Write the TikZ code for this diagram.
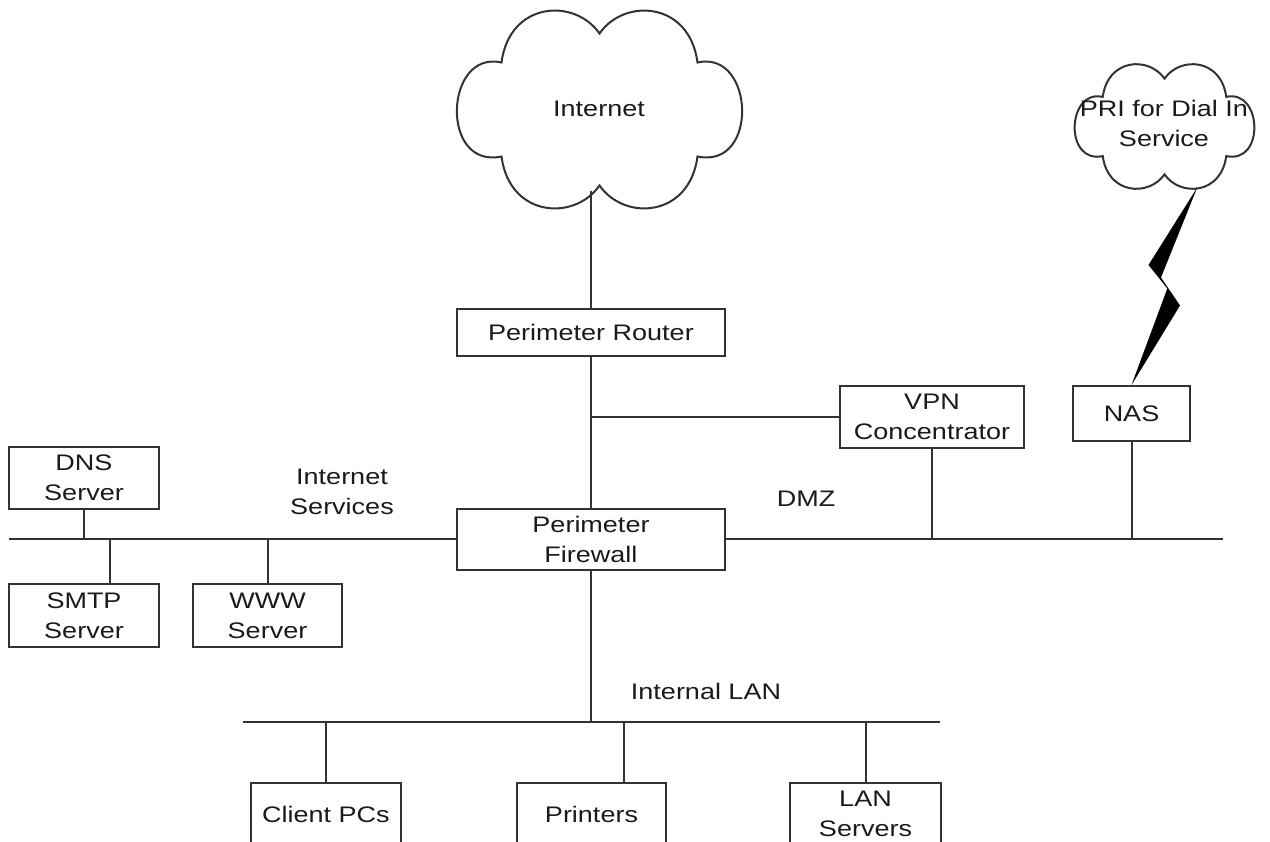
\documentclass[tikz,border=0pt]{standalone}
\usepackage{fontspec}
\setmainfont{Liberation Sans}[FakeStretch=1.2]
\definecolor{ink}{HTML}{333333}
\definecolor{txt}{HTML}{1A1A1A}
\newcommand\lblfont{\fontsize{22.5}{30}\selectfont}
\tikzset{
  box/.style={draw=ink, line width=2pt, inner sep=0pt, align=center,
    text=txt, font=\lblfont},
  lbl/.style={inner sep=0pt, align=center, text=txt, font=\lblfont},
  wire/.style={draw=ink, line width=2pt},
  cloud outline/.pic={
    \draw[ink, line width=2pt]
      (0,-76) .. controls (-25,-112) and (-90,-108) .. (-98,-47)
      .. controls (-155,-60) and (-160,60) .. (-98,47)
      .. controls (-90,108) and (-25,112) .. (0,76)
      .. controls (25,112) and (90,108) .. (98,47)
      .. controls (160,60) and (155,-60) .. (98,-47)
      .. controls (90,-108) and (25,-112) .. (0,-76) -- cycle;
  }
}
\begin{document}
\begin{tikzpicture}[x=1pt,y=-1pt]
\useasboundingbox (0,0) rectangle (1270,842);
\clip (0,0) rectangle (1270,842);

% clouds
\pic at (599.5,109.5) {cloud outline};
\pic[scale=0.63] at (1164.5,126.5) {cloud outline};
\node[lbl] (internet) at (599,109) {Internet};
\node[lbl] (pri) at (1164,123.5) {PRI for Dial In\\Service};

% devices
\node[box, minimum width=268pt, minimum height=47pt] (router) at (591,332.5) {Perimeter Router};
\node[box, minimum width=268pt, minimum height=61pt] (firewall) at (591,539) {Perimeter\\Firewall};
\node[box, minimum width=184pt, minimum height=62pt] (vpn) at (932,417) {VPN\\Concentrator};
\node[box, minimum width=117pt, minimum height=55pt] (nas) at (1131.5,413.5) {NAS};
\node[box, minimum width=150pt, minimum height=62pt] (dns) at (84,478) {DNS\\Server};
\node[box, minimum width=150pt, minimum height=63pt] (smtp) at (84,615.5) {SMTP\\Server};
\node[box, minimum width=149pt, minimum height=63pt] (www) at (267.5,615.5) {WWW\\Server};
\node[box, minimum width=150pt, minimum height=62pt] (client) at (326,814) {Client PCs};
\node[box, minimum width=149pt, minimum height=62pt] (printers) at (591.5,814) {Printers};
\node[box, minimum width=151pt, minimum height=62pt] (lansrv) at (865.5,814) {LAN\\Servers};

% segment labels
\node[lbl] (svc) at (342,492) {Internet\\Services};
\node[lbl] (dmz) at (806,499) {DMZ};
\node[lbl] (lan) at (706,691) {Internal LAN};

% line ends and taps
\coordinate (netfoot) at (591,191);
\coordinate (tap) at (591,417);
\coordinate (dmzend) at (1223,539);
\coordinate (svcend) at (9,539);
\coordinate (lanL) at (243,722);
\coordinate (lanR) at (940,722);
\coordinate (boltTop) at (1197.3,187.3);

% uplink and perimeter
\draw[wire] (netfoot) -- (router);
\draw[wire] (router) -- (firewall);
\draw[wire] (tap) -- (vpn.west);

% DMZ segment
\draw[wire] (firewall.east) -- (dmzend);
\draw[wire] (vpn.south) -- (vpn.south |- dmzend);
\draw[wire] (nas.south) -- (nas.south |- dmzend);

% Internet services segment
\draw[wire] (svcend) -- (firewall.west);
\draw[wire] (dns.south) -- (dns.south |- svcend);
\draw[wire] ([xshift=26pt]smtp.north) -- ([xshift=26pt]smtp.north |- svcend);
\draw[wire] (www.north) -- (www.north |- svcend);

% internal LAN segment
\draw[wire] (lanL) -- (lanR);
\draw[wire] (firewall.south) -- (firewall.south |- lanL);
\draw[wire] (client.north) -- (client.north |- lanL);
\draw[wire] ([xshift=32.5pt]printers.north) -- ([xshift=32.5pt]printers.north |- lanL);
\draw[wire] (lansrv.north) -- (lansrv.north |- lanL);

% dial-in link
\fill[black] (boltTop) -- (1148.5,265) -- (1167.3,288.5) -- (nas.north)
  -- (1180,305.5) -- (1161,277.5) -- cycle;
\end{tikzpicture}
\end{document}
